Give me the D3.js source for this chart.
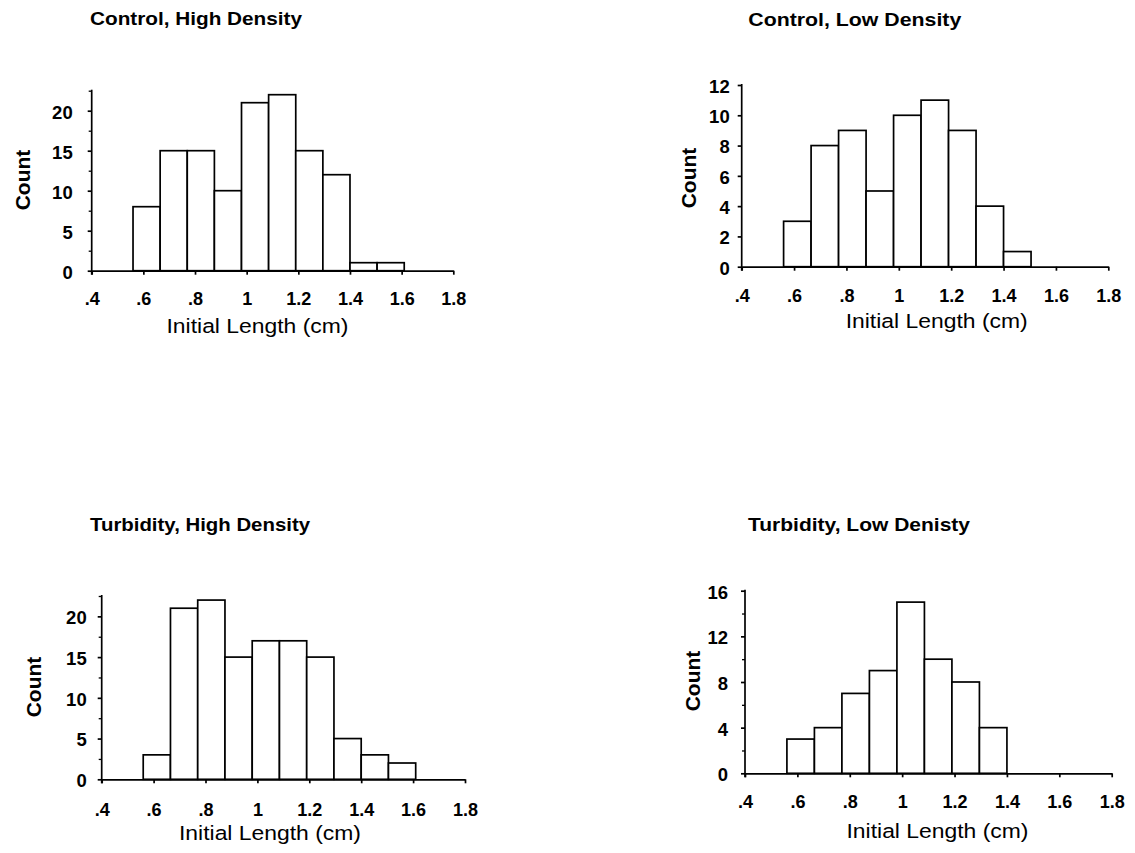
<!DOCTYPE html>
<html>
<head>
<meta charset="utf-8">
<script src="https://cdn.jsdelivr.net/npm/d3@7"></script>
<style>
  body { margin: 0; background: #fff; }
  text { font-family: "Liberation Sans", Arial, sans-serif; fill: #000; }
</style>
</head>
<body>
<svg id="chart" width="1135" height="853"></svg>
<script>
// ---- data ----
const panelTitles = ["Control, High Density", "Control, Low Density", "Turbidity, High Density", "Turbidity, Low Denisty"];
const controlHigh = [8, 15, 15, 10, 21, 22, 15, 12, 1, 1];
const controlLow = [3, 8, 9, 5, 10, 11, 9, 4, 1];
const turbidityHigh = [3, 21, 22, 15, 17, 17, 15, 5, 3, 2];
const turbidityLow = [3, 4, 7, 9, 15, 10, 8, 4];
const binStart = 0.56;
const binWidth = 0.105;
const xTickValues = [0.4, 0.6, 0.8, 1.0, 1.2, 1.4, 1.6, 1.8];
const xTickLabels = [".4", ".6", ".8", "1", "1.2", "1.4", "1.6", "1.8"];
const yMaxes = [22.5, 12, 22.5, 16];
const yMajorTicks = [[0, 5, 10, 15, 20], [0, 2, 4, 6, 8, 10, 12], [0, 5, 10, 15, 20], [0, 4, 8, 12, 16]];
const yMinorTicks = [[2.5, 7.5, 12.5, 17.5, 22.5], [], [2.5, 7.5, 12.5, 17.5, 22.5], [2, 6, 10, 14]];
const xAxisLabel = "Initial Length (cm)";
const yAxisLabel = "Count";
const seriesList = [controlHigh, controlLow, turbidityHigh, turbidityLow];

// ---- layout (pixels) ----
const layouts = [
  { x0: 91.7, x1: 453.3, yZero: 270.7, yTop: 90.7, tX: 90, tY: 24.5, tLen: 212, lX: 257.5, lY: 332.7, cX: 22.5, cY: 180, xlY: 305, ylGap: 19 },
  { x0: 741.7, x1: 1108.3, yZero: 266.7, yTop: 85, tX: 748.3, tY: 25.5, tLen: 213, lX: 936.7, lY: 328.3, cX: 688, cY: 178, xlY: 301.7, ylGap: 12 },
  { x0: 101.7, x1: 465, yZero: 779.3, yTop: 596, tX: 90, tY: 530.7, tLen: 220, lX: 270, lY: 840, cX: 33, cY: 687, xlY: 815.7, ylGap: 15 },
  { x0: 745, x1: 1111.7, yZero: 773.3, yTop: 590.7, tX: 748, tY: 530.7, tLen: 222, lX: 937.5, lY: 838.3, cX: 692, cY: 681, xlY: 808.3, ylGap: 17 }
];

const svg = d3.select("#chart");
const SW = 1.7;

seriesList.forEach((counts, p) => {
  const L = layouts[p];
  const g = svg.append("g");
  const x = d3.scaleLinear().domain([0.4, 1.8]).range([L.x0, L.x1]);
  const y = d3.scaleLinear().domain([0, yMaxes[p]]).range([L.yZero, L.yTop]);

  // title
  g.append("text")
    .attr("x", L.tX).attr("y", L.tY)
    .attr("font-size", 18.5).attr("font-weight", "bold")
    .attr("textLength", L.tLen).attr("lengthAdjust", "spacingAndGlyphs")
    .text(panelTitles[p]);

  // bars
  const bins = counts.map((c, i) => ({ lo: binStart + i * binWidth, hi: binStart + (i + 1) * binWidth, c }));
  g.selectAll("rect.bar").data(bins).join("rect")
    .attr("class", "bar")
    .attr("x", d => x(d.lo))
    .attr("width", d => x(d.hi) - x(d.lo))
    .attr("y", d => y(d.c))
    .attr("height", d => y(0) - y(d.c))
    .attr("fill", "#fff").attr("stroke", "#000").attr("stroke-width", SW);

  // x axis
  const xa = g.append("g").attr("transform", `translate(0,${L.yZero})`)
    .call(d3.axisBottom(x).tickValues(xTickValues).tickSize(4).tickSizeOuter(0)
      .tickFormat((d, i) => xTickLabels[i]));
  xa.selectAll("path, line").attr("stroke", "#000").attr("stroke-width", SW);
  xa.selectAll("text").attr("y", L.xlY - L.yZero).attr("dy", null)
    .attr("font-size", 18).attr("font-weight", "bold").attr("font-family", null);

  // y axis
  const ya = g.append("g").attr("transform", `translate(${L.x0},0)`)
    .call(d3.axisLeft(y).tickValues(yMajorTicks[p]).tickSize(4).tickSizeOuter(0).tickPadding(L.ylGap - 4)
      .tickFormat(d3.format("d")));
  ya.selectAll("path, line").attr("stroke", "#000").attr("stroke-width", SW);
  ya.selectAll("text").attr("dy", "0.4em")
    .attr("font-size", 18.5).attr("font-weight", "bold").attr("font-family", null);
  ya.select("path.domain").attr("d", `M0,${y(yMaxes[p]) - 1}V${L.yZero + 4}`);

  const yam = g.append("g").attr("transform", `translate(${L.x0},0)`)
    .call(d3.axisLeft(y).tickValues(yMinorTicks[p]).tickSize(3).tickSizeOuter(0).tickFormat(""));
  yam.select("path.domain").remove();
  yam.selectAll("line").attr("stroke", "#000").attr("stroke-width", 1.3);

  // axis labels
  g.append("text")
    .attr("x", L.lX).attr("y", L.lY)
    .attr("text-anchor", "middle")
    .attr("font-size", 20.5)
    .attr("textLength", 182).attr("lengthAdjust", "spacingAndGlyphs")
    .text(xAxisLabel);

  g.append("text")
    .attr("transform", `translate(${L.cX},${L.cY}) rotate(-90)`)
    .attr("text-anchor", "middle").attr("dominant-baseline", "central")
    .attr("font-size", 21).attr("font-weight", "bold")
    .text(yAxisLabel);
});
</script>
</body>
</html>
